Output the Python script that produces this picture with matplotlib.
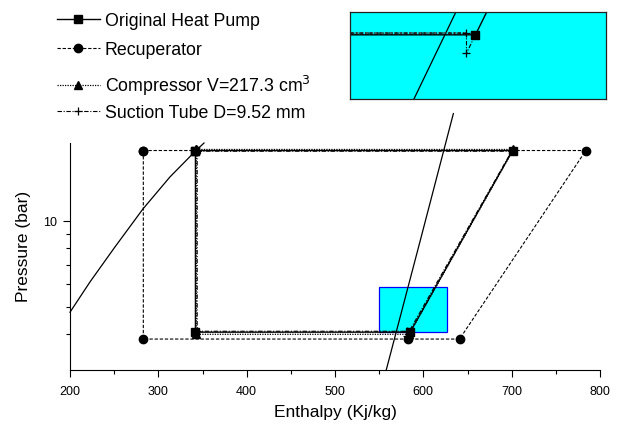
import numpy as np
import matplotlib
matplotlib.use("Agg")
import matplotlib.pyplot as plt
from matplotlib.patches import Rectangle
from matplotlib.ticker import FixedLocator, NullFormatter, FixedFormatter

plt.rcParams["font.family"] = ["Liberation Sans", "DejaVu Sans"]

# ---- data (enthalpy kJ/kg, pressure bar) ----
h_orig = [342, 701, 585, 342, 342]
p_orig = [17.6, 17.6, 4.07, 4.07, 17.6]

h_recup = [283, 784, 641, 583, 283, 283]
p_recup = [17.6, 17.6, 3.85, 3.85, 3.85, 17.6]

h_comp = [343, 702, 584, 343, 343]
p_comp = [17.75, 17.75, 4.0, 4.0, 17.75]

h_suct = [344, 700, 581, 581, 344, 344]
p_suct = [17.5, 17.5, 3.95, 4.1, 4.1, 17.5]

# saturation lines
h_liq = [200, 222.6, 250.9, 282.6, 313.2, 342.6, 351.7]
p_liq = [4.78, 6.10, 8.09, 10.99, 14.23, 17.6, 18.7]
h_vap = [558, 596, 634]
p_vap = [3.0, 8.4, 23.7]

# zoom box (main plot) and the enlarged detail in the inset
zoom_h = (550, 627)
zoom_p = (4.06, 5.84)
ins_h_orig = [560, 579.6, 582.2]
ins_p_orig = [4.195, 4.195, 4.35]
ins_h_suct = [560, 578.2, 578.2, 579.6]
ins_p_suct = [4.203, 4.203, 4.111, 4.195]
ins_h_vap = [577.2, 569.5]
ins_p_vap = [4.34, 3.87]

labels = ["Original Heat Pump", "Recuperator",
          "Compressor V=217.3 cm$^3$", "Suction Tube D=9.52 mm"]
legend_y = [21.7, 50.7, 86, 114]   # row centres, pixels from top

fig = plt.figure(figsize=(6.19, 4.27), dpi=100)
ax = fig.add_axes([70 / 619, 1 - 371 / 427, 530 / 619, 227 / 427])

ax.add_patch(Rectangle((zoom_h[0], zoom_p[0]), zoom_h[1] - zoom_h[0],
                       zoom_p[1] - zoom_p[0], facecolor="#00ffff",
                       edgecolor="#0000ff", lw=0.9, zorder=1))

ax.plot(h_liq, p_liq, color="k", lw=0.9, clip_on=False, zorder=2)
ax.plot(h_vap, p_vap, color="k", lw=0.9, clip_on=False, zorder=2)

l1, = ax.plot(h_orig, p_orig, "k-", lw=1.0, marker="s", ms=6, zorder=4)
l2, = ax.plot(h_recup, p_recup, color="k", ls=(0, (3, 1.6)), lw=0.8,
              marker="o", ms=6, zorder=3)
l3, = ax.plot(h_comp, p_comp, color="k", ls=(0, (1, 1)), lw=0.9,
              marker="^", ms=6, zorder=3)
l4, = ax.plot(h_suct, p_suct, color="k", ls=(0, (4, 1.5, 1, 1.5)), lw=0.8,
              marker="+", ms=6, mew=0.9, zorder=3)
for ln in (l1, l2, l3, l4):
    ln.set_clip_on(False)

ax.set_xlim(200, 800)
ax.set_yscale("log")
ax.set_ylim(3.0, 18.7)

ax.xaxis.set_major_locator(FixedLocator(np.arange(200, 801, 100)))
ax.xaxis.set_minor_locator(FixedLocator(np.arange(250, 800, 100)))
ax.yaxis.set_major_locator(FixedLocator([10]))
ax.yaxis.set_major_formatter(FixedFormatter(["10"]))
ax.yaxis.set_minor_locator(FixedLocator([4, 5, 6, 7, 8, 9]))
ax.yaxis.set_minor_formatter(NullFormatter())

ax.tick_params(which="major", direction="out", length=5, width=0.8,
               labelsize=9, pad=4)
ax.tick_params(axis="x", which="major", pad=6)
ax.tick_params(which="minor", direction="out", length=3, width=0.8)

for s in ("top", "right"):
    ax.spines[s].set_visible(False)
for s in ("left", "bottom"):
    ax.spines[s].set_linewidth(0.8)

ax.set_xlabel("Enthalpy (Kj/kg)", fontsize=12.5, labelpad=5)
ax.set_ylabel("Pressure (bar)", fontsize=12.5)
ax.yaxis.set_label_coords(-0.073, 0.55)

# ---- inset: enlarged suction detail ----
ins = fig.add_axes([350 / 619, 1 - 100 / 427, 256 / 619, 87 / 427])
ins.set_facecolor("#00ffff")
ins.plot(ins_h_vap, ins_p_vap, color="k", lw=0.9)
ins.plot(ins_h_suct[:2], ins_p_suct[:2], color="#446666", ls=(0, (1, 0.6)),
         lw=2.2)
ins.plot(ins_h_orig, ins_p_orig, "k-", lw=1.0)
ins.plot(ins_h_orig[1], ins_p_orig[1], "ks", ms=6)
ins.plot(ins_h_suct, ins_p_suct, color="k", ls=(0, (4, 1.5, 1, 1.5)),
         lw=0.8, marker="+", ms=6, mew=0.9, markevery=[1, 2])
ins.set_xlim(560, 600)
ins.set_ylim(3.9, 4.3)
ins.set_xticks([])
ins.set_yticks([])
for s in ins.spines.values():
    s.set_linewidth(0.9)
    s.set_color("#222222")

# legend, one row at a time so the row positions follow the original
for ln, lab, yc in zip((l1, l2, l3, l4), labels, legend_y):
    fig.legend([ln], [lab], loc="center left",
               bbox_to_anchor=(57 / 619, 1 - yc / 427), frameon=False,
               numpoints=1, handlelength=2.4, handletextpad=0.3,
               borderpad=0, borderaxespad=0, fontsize=12.8)

fig.savefig("out.png", dpi=100)
